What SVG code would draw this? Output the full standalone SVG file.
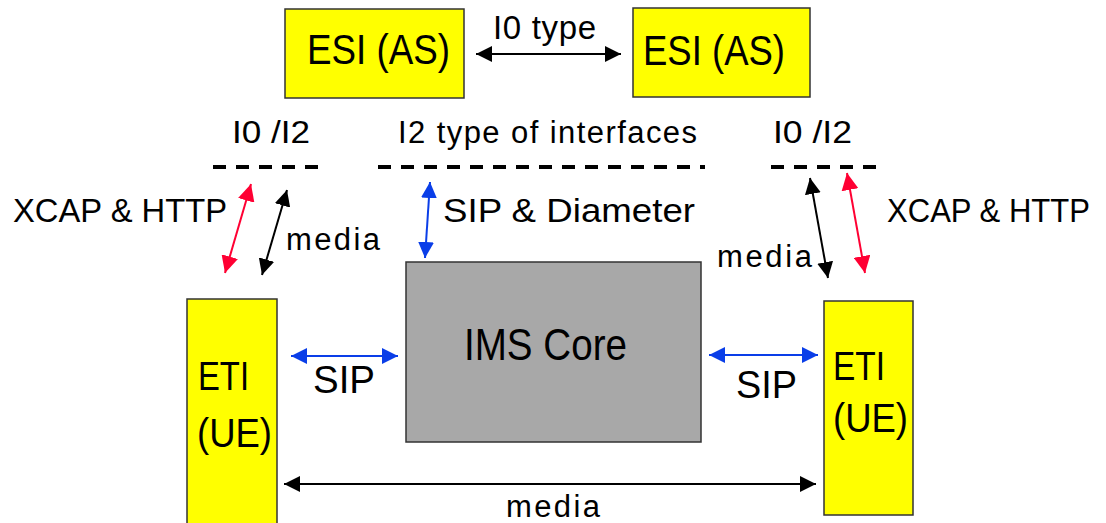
<svg xmlns="http://www.w3.org/2000/svg" width="1106" height="523" viewBox="0 0 1106 523">
<style>
text{font-family:"Liberation Sans",Arial,sans-serif;fill:#000}
.box{fill:#ffff00;stroke:#333;stroke-width:1.5}
.core{fill:#a8a8a8;stroke:#333;stroke-width:1.5}
.dash{stroke:#000;stroke-width:4;stroke-dasharray:13 10;fill:none}
.blk{stroke:#000;stroke-width:2;marker-start:url(#mk);marker-end:url(#mk)}
.red{stroke:#ff0033;stroke-width:2;marker-start:url(#mr);marker-end:url(#mr)}
.blu{stroke:#0a3ee8;stroke-width:2;marker-start:url(#mb);marker-end:url(#mb)}
</style>
<defs>
<marker id="mk" viewBox="0 0 16 16" refX="16" refY="8" markerWidth="16" markerHeight="16" markerUnits="userSpaceOnUse" orient="auto-start-reverse"><path d="M0,0 L16,8 L0,16 z" fill="#000"/></marker>
<marker id="mr" viewBox="0 0 16 16" refX="16" refY="8" markerWidth="17" markerHeight="17" markerUnits="userSpaceOnUse" orient="auto-start-reverse"><path d="M0,0 L16,8 L0,16 z" fill="#ff0033"/></marker>
<marker id="mb" viewBox="0 0 16 16" refX="16" refY="8" markerWidth="16" markerHeight="16" markerUnits="userSpaceOnUse" orient="auto-start-reverse"><path d="M0,0 L16,8 L0,16 z" fill="#0a3ee8"/></marker>
</defs>

<g id="esi-left"><rect class="box" x="285" y="9" width="179" height="89"/><text x="307" y="64" font-size="42" textLength="143" lengthAdjust="spacingAndGlyphs">ESI (AS)</text></g>
<g id="esi-right"><rect class="box" x="633" y="8" width="177" height="89"/><text x="643" y="65" font-size="42" textLength="142" lengthAdjust="spacingAndGlyphs">ESI (AS)</text></g>
<g id="ims-core"><rect class="core" x="406" y="262" width="295" height="180"/><text x="464" y="360" font-size="44" textLength="163" lengthAdjust="spacingAndGlyphs">IMS Core</text></g>
<g id="eti-left"><rect class="box" x="187" y="299" width="90" height="230"/><text x="198" y="390" font-size="41" textLength="51" lengthAdjust="spacingAndGlyphs">ETI</text><text x="197" y="447" font-size="41" textLength="75" lengthAdjust="spacingAndGlyphs">(UE)</text></g>
<g id="eti-right"><rect class="box" x="824" y="301" width="89" height="214"/><text x="833" y="380" font-size="41" textLength="52" lengthAdjust="spacingAndGlyphs">ETI</text><text x="833" y="432" font-size="41" textLength="75" lengthAdjust="spacingAndGlyphs">(UE)</text></g>

<g id="interface-lines">
<line class="dash" x1="213" y1="167" x2="321" y2="167"/>
<line class="dash" x1="378" y1="167" x2="705" y2="167"/>
<line class="dash" x1="771" y1="167" x2="880" y2="167"/>
<text x="232" y="143" font-size="31" textLength="78" lengthAdjust="spacingAndGlyphs">I0 /I2</text>
<text x="398" y="143" font-size="31" textLength="299" lengthAdjust="spacing">I2 type of interfaces</text>
<text x="773" y="143" font-size="31" textLength="79" lengthAdjust="spacingAndGlyphs">I0 /I2</text>
</g>

<g id="connectors">
<line class="blk" x1="476" y1="54" x2="621" y2="54"/>
<line class="red" x1="251" y1="184" x2="225" y2="273"/>
<line class="blk" x1="287" y1="190" x2="262" y2="275"/>
<line class="blu" x1="430" y1="182" x2="425" y2="258"/>
<line class="blk" x1="810" y1="178" x2="828" y2="278"/>
<line class="red" x1="847" y1="173" x2="865" y2="273"/>
<line class="blu" x1="291" y1="356" x2="398" y2="356"/>
<line class="blu" x1="709" y1="355" x2="818" y2="355"/>
<line class="blk" x1="284" y1="484" x2="816" y2="484"/>
<text x="493" y="39" font-size="33" textLength="103" lengthAdjust="spacing">I0 type</text>
<text x="13" y="222" font-size="34" textLength="214" lengthAdjust="spacingAndGlyphs">XCAP &amp; HTTP</text>
<text x="887" y="222" font-size="33" textLength="203" lengthAdjust="spacingAndGlyphs">XCAP &amp; HTTP</text>
<text x="443" y="222" font-size="34" textLength="252" lengthAdjust="spacingAndGlyphs">SIP &amp; Diameter</text>
<text x="286" y="250" font-size="31" textLength="94" lengthAdjust="spacing">media</text>
<text x="717" y="267" font-size="31" textLength="95" lengthAdjust="spacing">media</text>
<text x="313" y="393" font-size="38" textLength="62" lengthAdjust="spacingAndGlyphs">SIP</text>
<text x="736" y="398" font-size="38" textLength="61" lengthAdjust="spacingAndGlyphs">SIP</text>
<text x="506" y="517" font-size="31" textLength="94" lengthAdjust="spacing">media</text>
</g>
</svg>
